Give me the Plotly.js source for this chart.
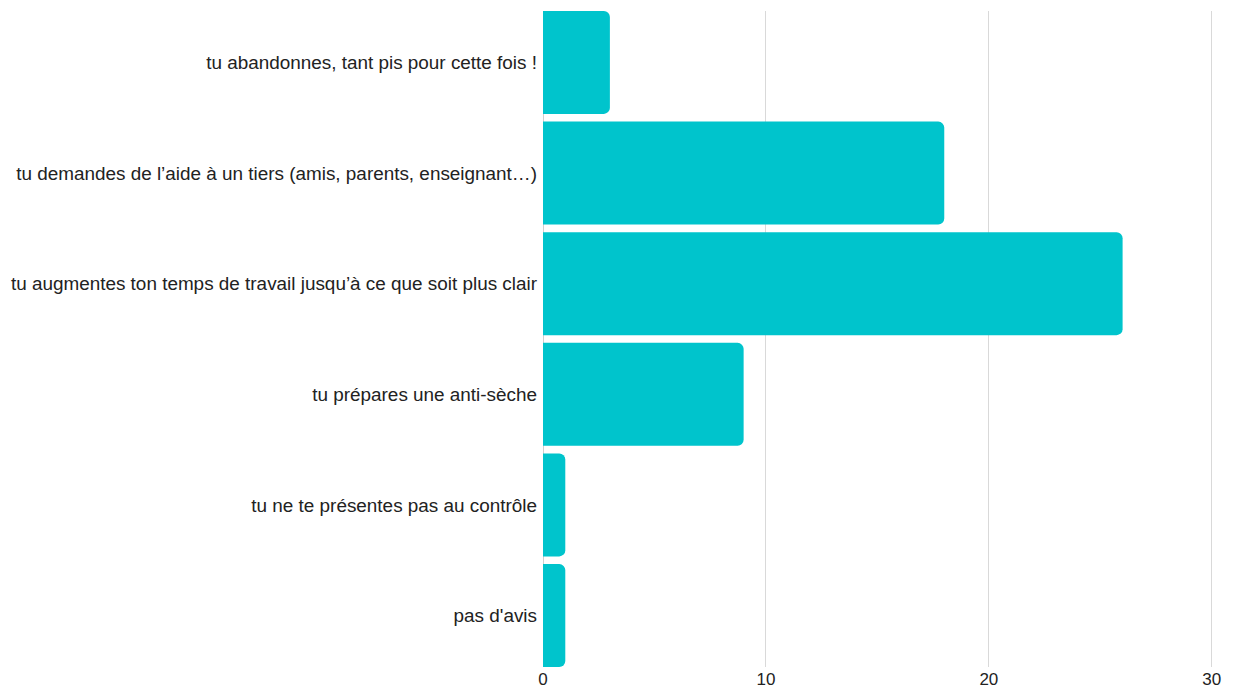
<!DOCTYPE html>
<html>
<head>
<meta charset="utf-8">
<script src="https://cdn.plot.ly/plotly-3.0.1.min.js"></script>
<style>html,body{margin:0;padding:0;background:#fff;}#chart{width:1235px;height:688px;}</style>
</head>
<body>
<div id="chart"></div>
<script>
const categories = [
  "tu abandonnes, tant pis pour cette fois !",
  "tu demandes de l’aide à un tiers (amis, parents, enseignant…)",
  "tu augmentes ton temps de travail jusqu’à ce que soit plus clair",
  "tu prépares une anti-sèche",
  "tu ne te présentes pas au contrôle",
  "pas d'avis"
];
const values = [3, 18, 26, 9, 1, 1];
const xTicks = [0, 10, 20, 30];

Plotly.newPlot('chart', [{
  type: 'bar',
  orientation: 'h',
  y: categories,
  x: values,
  marker: {color: '#00c4cc'},
  hoverinfo: 'none'
}], {
  width: 1235, height: 688,
  margin: {l: 543, r: 21, t: 11, b: 21, pad: 0},
  paper_bgcolor: '#fff', plot_bgcolor: '#fff',
  bargap: 0.07,
  barcornerradius: 6,
  font: {family: 'Liberation Sans, Arial, sans-serif', size: 18.9, color: '#222'},
  xaxis: {
    range: [0, 30.1], tickvals: xTicks, ticktext: xTicks.map(String),
    showgrid: true, gridcolor: '#d9d9d9', gridwidth: 1,
    zeroline: true, zerolinecolor: '#d0d0d0', zerolinewidth: 1,
    showline: false, ticks: '', tickfont: {size: 17, color: '#222'}
  },
  yaxis: {
    range: [5.465, -0.465], showgrid: false, zeroline: false, showline: false,
    ticks: '', ticklen: 0, ticklabelstandoff: 5, tickfont: {size: 18.9, color: '#222'}
  },
  showlegend: false
}, {staticPlot: true});
</script>
</body>
</html>
